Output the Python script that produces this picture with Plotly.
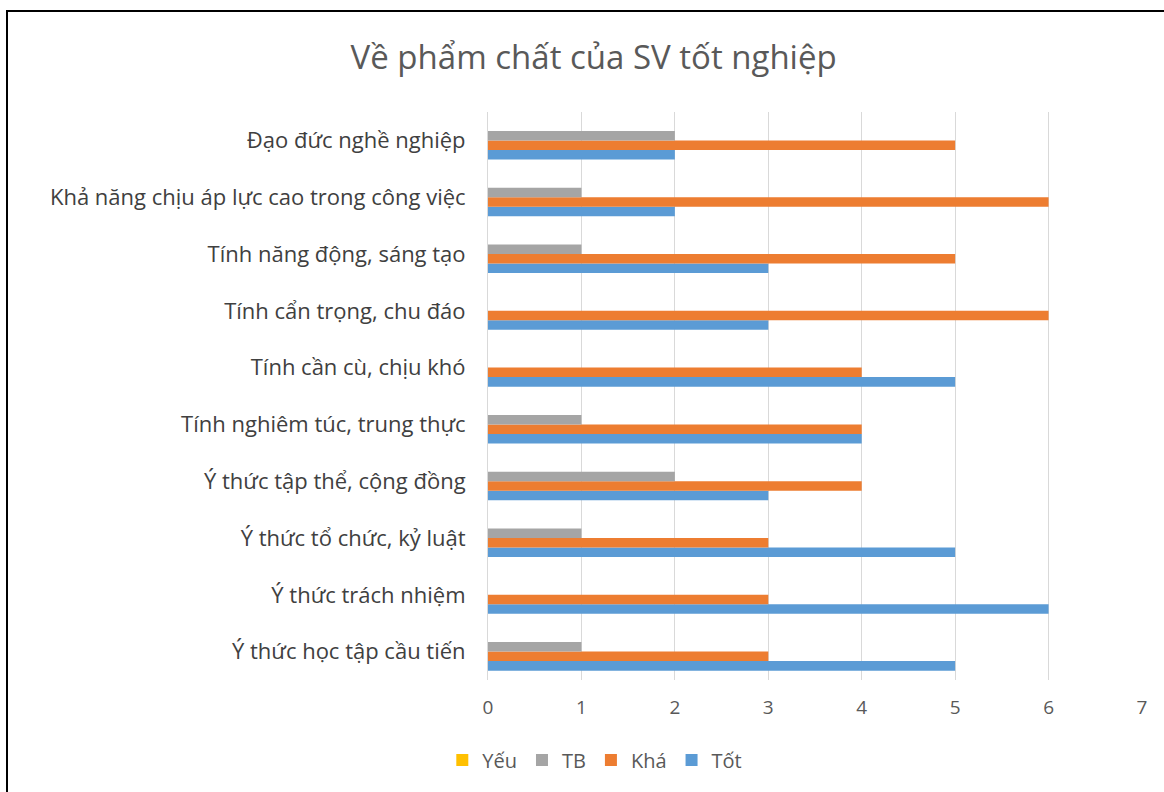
import plotly.graph_objects as go

categories = [
    "Ý thức học tập cầu tiến",
    "Ý thức trách nhiệm",
    "Ý thức tổ chức, kỷ luật",
    "Ý thức tập thể, cộng đồng",
    "Tính nghiêm túc, trung thực",
    "Tính cần cù, chịu khó",
    "Tính cẩn trọng, chu đáo",
    "Tính năng động, sáng tạo",
    "Khả năng chịu áp lực cao trong công việc",
    "Đạo đức nghề nghiệp",
]
tot = [5, 6, 5, 3, 4, 5, 3, 3, 2, 2]
kha = [3, 3, 3, 4, 4, 4, 6, 5, 6, 5]
tb = [1, 0, 1, 2, 1, 0, 0, 1, 1, 2]
yeu = [0, 0, 0, 0, 0, 0, 0, 0, 0, 0]

series = [
    ("Tốt", tot, "#5b9bd5"),
    ("Khá", kha, "#ed7d31"),
    ("TB", tb, "#a5a5a5"),
    ("Yếu", yeu, "#ffc000"),
]

fig = go.Figure()
for name, vals, color in series:
    fig.add_trace(go.Bar(
        y=categories, x=vals, name=name, orientation="h",
        marker=dict(color=color, line=dict(width=0)),
    ))

fig.update_layout(
    width=1164, height=792,
    barmode="group", bargap=0.33, bargroupgap=0,
    paper_bgcolor="white", plot_bgcolor="white",
    font=dict(family="Open Sans", color="#404040"),
    margin=dict(l=488, r=22, t=112, b=112),
    title=dict(text="Về phẩm chất của SV tốt nghiệp", x=0.51, xanchor="center",
               y=0.928, yanchor="middle",
               font=dict(size=33, color="#595959")),
    legend=dict(orientation="h", traceorder="reversed",
                x=0.511, xanchor="center", xref="container",
                y=1 - 760 / 792, yanchor="middle", yref="container",
                itemwidth=30, font=dict(size=20, color="#595959")),
    showlegend=True,
)
fig.update_xaxes(range=[0, 7], dtick=1, showgrid=True, gridcolor="#d9d9d9",
                 zeroline=False, showline=False, ticklabelstandoff=14,
                 tickfont=dict(size=19, color="#595959"))
fig.update_yaxes(showgrid=False, showline=True, linecolor="#d9d9d9", ticks="",
                 ticklabelstandoff=17, tickfont=dict(size=22, color="#404040"))

# outer frame of the original image
fig.add_shape(type="rect", xref="paper", yref="paper",
              x0=(7 - 488) / 654, x1=1.2, y0=-0.4, y1=1 + (112 - 11) / 568,
              line=dict(color="black", width=2))

fig.write_html("out.html", config={"displayModeBar": False},
               post_script="document.body.style.margin='0';")
